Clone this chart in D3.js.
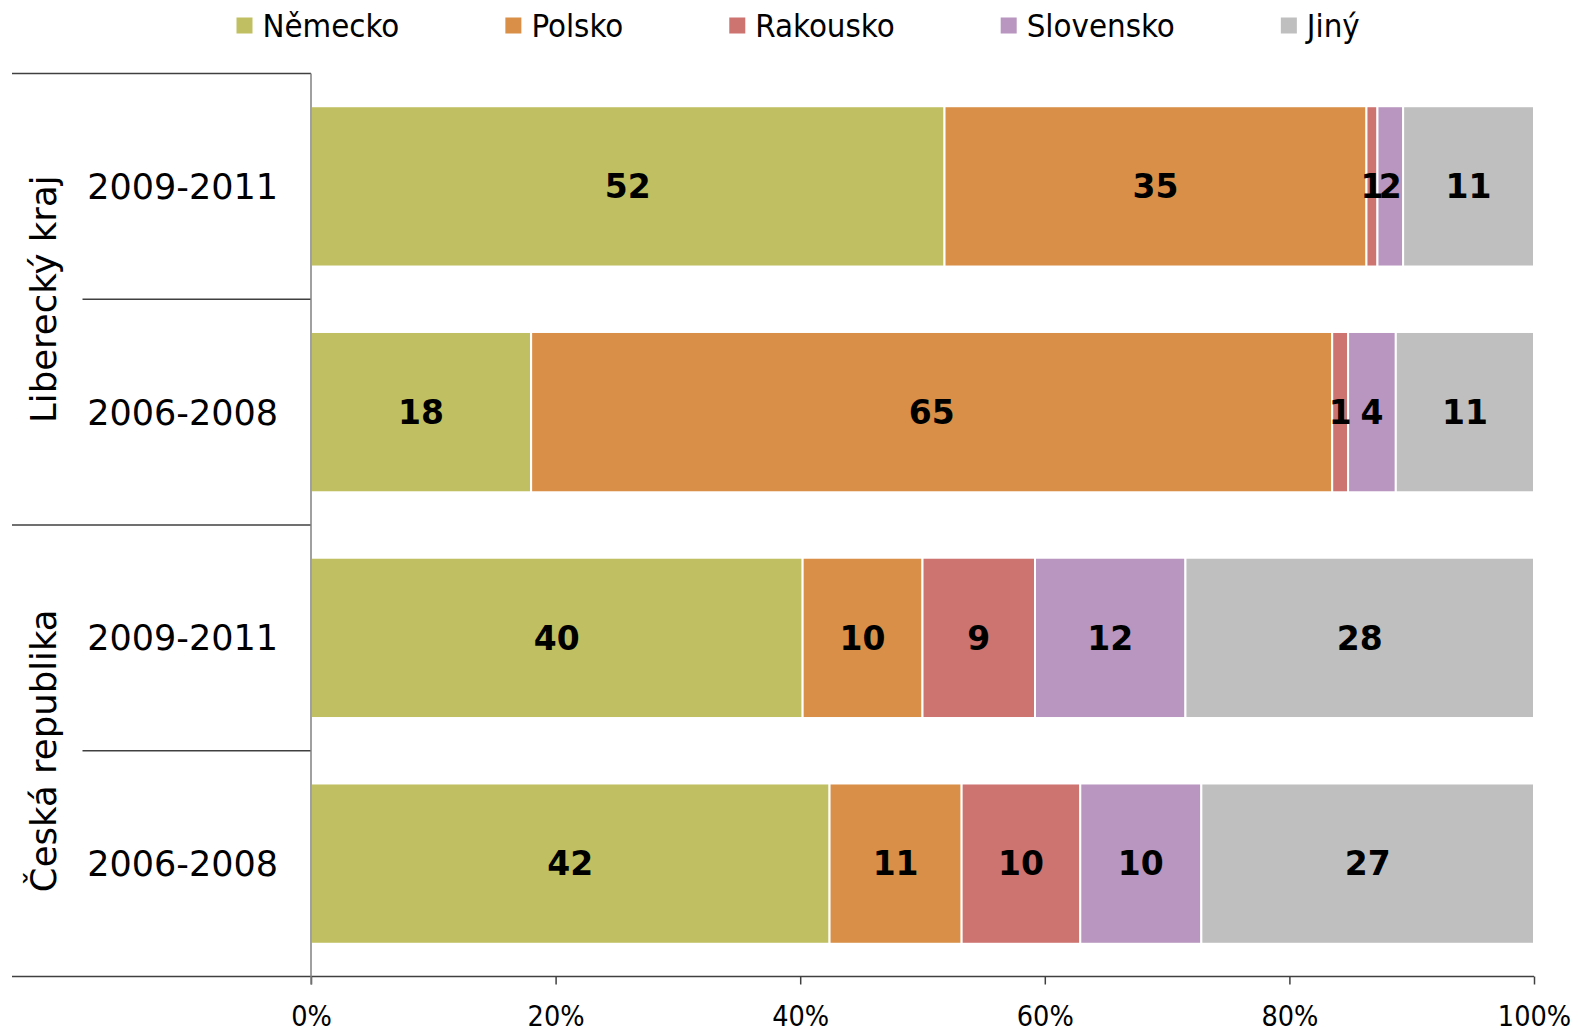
<!DOCTYPE html>
<html>
<head>
<meta charset="utf-8">
<script src="https://cdn.jsdelivr.net/npm/d3@7"></script>
<style>
  html, body { margin: 0; padding: 0; background: #fff; overflow: hidden; }
  svg { display: block; }
  text { font-family: "DejaVu Sans", Verdana, sans-serif; }
</style>
</head>
<body>
<svg id="chart"></svg>
<script>
// cizinci podle zemi puvodu, podily v %

var series = ["Německo", "Polsko", "Rakousko", "Slovensko", "Jiný"];
var colors = ["#c0c062", "#d98f48", "#cd7370", "#b896bf", "#bfbfbf"];

var groups = ["Liberecký kraj", "Česká republika"];
var periods = ["2009-2011", "2006-2008"];

// rows top to bottom: [group, period]
var rows = [[0, 0], [0, 1], [1, 0], [1, 1]];

// share of each country per row
var nemecko    = [51.8, 18.0, 40.2, 42.4];
var polsko     = [34.5, 65.5,  9.8, 10.8];
var rakousko   = [ 0.9,  1.3,  9.2,  9.7];
var slovensko  = [ 2.1,  3.9, 12.3,  9.9];
var jiny       = [10.7, 11.3, 28.5, 27.2];
// printed labels
var labels = [
  [52, 35, 1, 2, 11],
  [18, 65, 1, 4, 11],
  [40, 10, 9, 12, 28],
  [42, 11, 10, 10, 27]
];

var xTicks = [0, 20, 40, 60, 80, 100];

var width = 1578, height = 1029;
var m = { left: 311, right: 1534, top: 73.5, bottom: 976.5 };
var condensed = "'DejaVu Sans Condensed', 'DejaVu Sans', sans-serif";

var chart = d3.select("#chart").attr("width", width).attr("height", height);

var values = [nemecko, polsko, rakousko, slovensko, jiny];
var data = rows.map(function(r, i) {
  var v = values.map(function(s) { return s[i]; });
  var total = d3.sum(v);
  var x0 = 0;
  return {
    id: i,
    group: r[0],
    period: periods[r[1]],
    segs: v.map(function(d, j) {
      var s = { k: j, x0: x0, x1: x0 + d / total * 100, label: labels[i][j] };
      x0 = s.x1;
      return s;
    })
  };
});

var xscale = d3.scaleLinear().domain([0, 100]).range([m.left, m.right]);
var yscale = d3.scaleBand()
    .domain(data.map(function(d) { return d.id; }))
    .range([m.top, m.bottom])
    .paddingInner(0.29)
    .paddingOuter(0.145);

var step = yscale.step();

// bars
var rowG = chart.selectAll("g.row").data(data).enter()
    .append("g").attr("class", "row")
    .attr("transform", function(d) { return "translate(0," + yscale(d.id) + ")"; });

rowG.selectAll("rect").data(function(d) { return d.segs; }).enter()
    .append("rect")
    .attr("x", function(d) { return xscale(d.x0); })
    .attr("width", function(d) { return xscale(d.x1) - xscale(d.x0); })
    .attr("height", yscale.bandwidth())
    .style("fill", function(d) { return colors[d.k]; })
    .style("stroke", "#fff")
    .style("stroke-width", 2);

rowG.selectAll("text").data(function(d) { return d.segs; }).enter()
    .append("text")
    .attr("x", function(d) { return (xscale(d.x0) + xscale(d.x1)) / 2; })
    .attr("y", yscale.bandwidth() / 2)
    .attr("dy", "0.36em")
    .attr("text-anchor", "middle")
    .style("font-size", "33px")
    .style("font-weight", "bold")
    .text(function(d) { return d.label; });

// x axis
var xAxis = d3.axisBottom(xscale)
    .tickValues(xTicks)
    .tickSize(8)
    .tickFormat(function(d) { return d + "%"; });

var ax = chart.append("g")
    .attr("transform", "translate(0," + m.bottom + ")")
    .call(xAxis);
ax.select(".domain").remove();
ax.selectAll(".tick line").style("stroke", "#404040").style("stroke-width", 1.5);
ax.selectAll(".tick text")
    .attr("y", 49.5)
    .attr("dy", 0)
    .style("font-size", "28.5px")
    .style("font-family", condensed)
    .style("fill", "#000");

// axis lines
chart.append("line")
    .attr("x1", 12).attr("x2", m.right).attr("y1", m.bottom).attr("y2", m.bottom)
    .style("stroke", "#404040").style("stroke-width", 1.5);

// row separators on the left axis
data.forEach(function(d, i) {
  var y0 = m.top + i * step;
  chart.append("line")
      .attr("x1", i % 2 === 0 ? 12 : 82.5).attr("x2", m.left)
      .attr("y1", y0).attr("y2", y0)
      .style("stroke", "#404040").style("stroke-width", 1.5);
});

chart.append("line")
    .attr("x1", m.left).attr("x2", m.left).attr("y1", m.top).attr("y2", m.bottom + 8)
    .style("stroke", "#808080").style("stroke-width", 1.5);

// period labels
chart.selectAll("text.period").data(data).enter()
    .append("text").attr("class", "period")
    .attr("x", 278)
    .attr("y", function(d) { return yscale(d.id) + yscale.bandwidth() / 2; })
    .attr("dy", "0.36em")
    .attr("text-anchor", "end")
    .style("font-size", "35px")
    .text(function(d) { return d.period; });

// group labels, rotated
chart.selectAll("text.group").data(groups).enter()
    .append("text").attr("class", "group")
    .attr("transform", function(d, i) {
      var yc = m.top + (i * 2 + 1) * step;
      return "translate(56," + yc + ") rotate(-90)";
    })
    .attr("text-anchor", "middle")
    .style("font-size", "35.5px")
    .text(function(d) { return d; });

// legend
var legend = chart.append("g").attr("transform", "translate(236.5,0)");
var lx = 0;
series.forEach(function(s, i) {
  var g = legend.append("g").attr("transform", "translate(" + lx + ",0)");
  g.append("rect").attr("x", 0).attr("y", 17.5).attr("width", 16).attr("height", 16)
      .style("fill", colors[i]);
  var t = g.append("text").attr("x", 26).attr("y", 36.5)
      .style("font-size", "32.7px")
      .style("font-family", condensed)
      .text(s);
  lx += 26 + t.node().getComputedTextLength() + 106;
});
</script>
</body>
</html>
